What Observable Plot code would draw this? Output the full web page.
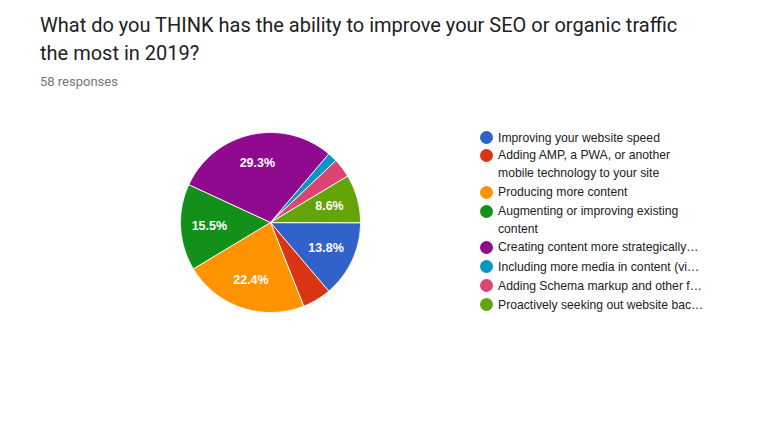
<!DOCTYPE html>
<html>
<head>
<meta charset="utf-8">
<script src="https://cdn.jsdelivr.net/npm/d3@7"></script>
<script src="https://cdn.jsdelivr.net/npm/@observablehq/plot@0.6"></script>
<style>
  html, body { margin: 0; padding: 0; background: #fff; width: 762px; height: 424px; overflow: hidden; position: relative; }
  #title { position: absolute; left: 40px; top: 11px; font-family: Roboto, sans-serif; font-size: 20px; line-height: 28px; color: #212121; }
  #sub { position: absolute; left: 40px; top: 74px; font-family: Roboto, sans-serif; font-size: 13px; color: #757575; }
  #chart { position: absolute; left: 0; top: 100px; }
  #legend { position: absolute; left: 480px; top: 129px; font-family: "Liberation Sans", Arial, sans-serif; font-size: 12.2px; color: #222; }
  .item { position: absolute; left: 0; white-space: pre; line-height: 17.5px; }
  .dot { position: absolute; left: 0; top: 2px; width: 13px; height: 13px; border-radius: 50%; }
  .lab { position: absolute; left: 18px; top: 0.5px; }
</style>
</head>
<body>
<div id="title">What do you THINK has the ability to improve your SEO or organic traffic<br>the most in 2019?</div>
<div id="sub">58 responses</div>
<div id="chart"></div>
<div id="legend"></div>
<script>
const categories = [
  "Improving your website speed",
  "Adding AMP, a PWA, or another\nmobile technology to your site",
  "Producing more content",
  "Augmenting or improving existing\ncontent",
  "Creating content more strategically…",
  "Including more media in content (vi…",
  "Adding Schema markup and other f…",
  "Proactively seeking out website bac…"
];
const counts = [8, 3, 13, 9, 17, 1, 2, 5];
const colors = ["#3162c9", "#d93413", "#ff9300", "#13901a", "#8f0a8f", "#0496c4", "#dc4474", "#63a506"];
const legendTops = [0, 17.5, 54.5, 73.5, 109.5, 129, 148, 167];
const startAngle = 90; // degrees clockwise from 12 o'clock

const total = d3.sum(counts);
const slices = [];
let acc = 0;
categories.forEach((c, i) => {
  const a0 = startAngle + acc / total * 360;
  acc += counts[i];
  const a1 = startAngle + acc / total * 360;
  slices.push({cat: c, count: counts[i], a0, a1, pct: counts[i] / total});
});

const pts = [];
for (const s of slices) {
  pts.push({cat: s.cat, x: 0, y: 0});
  const n = Math.max(2, Math.ceil((s.a1 - s.a0) / 0.5));
  for (let k = 0; k <= n; k++) {
    const a = (s.a0 + (s.a1 - s.a0) * k / n) * Math.PI / 180;
    pts.push({cat: s.cat, x: Math.sin(a), y: Math.cos(a)});
  }
}
const labels = slices.filter(s => s.pct > 0.06).map(s => {
  const a = (s.a0 + s.a1) / 2 * Math.PI / 180;
  return {x: 0.68 * Math.sin(a), y: 0.68 * Math.cos(a), text: (s.pct * 100).toFixed(1) + "%"};
});

const plot = Plot.plot({
  width: 762,
  height: 324,
  marginLeft: 180,
  marginRight: 402,
  marginTop: 32,
  marginBottom: 112,
  x: {domain: [-1, 1], axis: null},
  y: {domain: [-1, 1], axis: null},
  color: {domain: categories, range: colors},
  style: {background: "white"},
  marks: [
    Plot.line(pts, {x: "x", y: "y", z: "cat", fill: "cat", stroke: "white", strokeWidth: 1, curve: "linear-closed"}),
    Plot.text(labels, {x: "x", y: "y", text: "text", fill: "white", fontSize: 12.5, fontWeight: "bold", fontFamily: "Liberation Sans, Arial, sans-serif"})
  ]
});
document.getElementById("chart").appendChild(plot);

const legend = document.getElementById("legend");
categories.forEach((c, i) => {
  const item = document.createElement("div");
  item.className = "item";
  item.style.top = legendTops[i] + "px";
  const dot = document.createElement("div");
  dot.className = "dot";
  dot.style.background = colors[i];
  const lab = document.createElement("div");
  lab.className = "lab";
  lab.textContent = c;
  item.appendChild(dot);
  item.appendChild(lab);
  legend.appendChild(item);
});
</script>
</body>
</html>
